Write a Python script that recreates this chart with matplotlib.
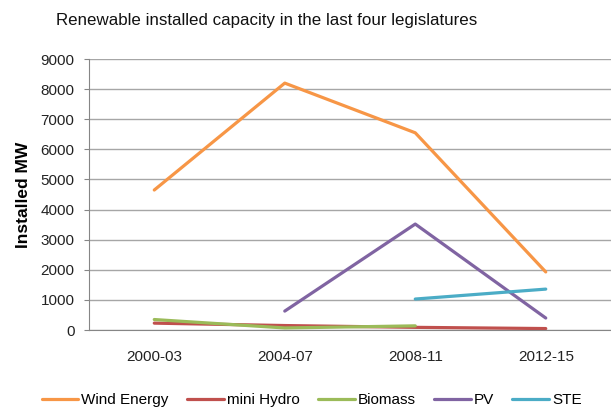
import numpy as np
import matplotlib.pyplot as plt

# legislature periods and installed MW per technology
periods = ['2000-03', '2004-07', '2008-11', '2012-15']
wind = [4650, 8200, 6550, 1930]
mini_hydro = [230, 150, 90, 50]
biomass = [350, 70, 140, np.nan]
pv = [np.nan, 630, 3520, 400]
ste = [np.nan, np.nan, 1030, 1360]

plt.rcParams['font.family'] = ['Liberation Sans', 'DejaVu Sans']

fig = plt.figure(figsize=(6.11, 4.09), dpi=100)
ax = fig.add_axes([0.1457, 0.193, 0.8543, 0.6627])

x = np.arange(len(periods))
series = [
    ('Wind Energy', wind, '#f79646'),
    ('mini Hydro', mini_hydro, '#c0504d'),
    ('Biomass', biomass, '#9bbb59'),
    ('PV', pv, '#8064a2'),
    ('STE', ste, '#4bacc6'),
]
for name, vals, col in series:
    ax.plot(x, vals, color=col, lw=2.3, label=name, solid_capstyle='round')

ax.set_xlim(-0.5, 3.5)
ax.set_ylim(0, 9000)
ax.set_yticks(range(0, 9001, 1000))
ax.set_xticks(x)
ax.set_xticklabels(periods)
ax.tick_params(labelsize=11, colors='#868686', labelcolor='#222222')
ax.tick_params(axis='x', length=0, pad=14)
ax.tick_params(axis='y', length=3.5, pad=7)
ax.grid(axis='y', color='#a6a6a6', lw=1)
ax.set_axisbelow(True)
for s in ['top', 'right']:
    ax.spines[s].set_visible(False)
for s in ['left', 'bottom']:
    ax.spines[s].set_color('#868686')

ax.set_ylabel('Installed MW', fontsize=12.5, fontweight='bold', labelpad=7)
fig.text(0.436, 0.95, 'Renewable installed capacity in the last four legislatures',
         ha='center', va='center', fontsize=12.2, color='#111111')

fig.legend(loc='center', bbox_to_anchor=(0.51, 0.022), ncol=5, frameon=False,
           fontsize=11, handlelength=2.4, columnspacing=1.2, handletextpad=0.2)

fig.savefig('out.png', dpi=100)
